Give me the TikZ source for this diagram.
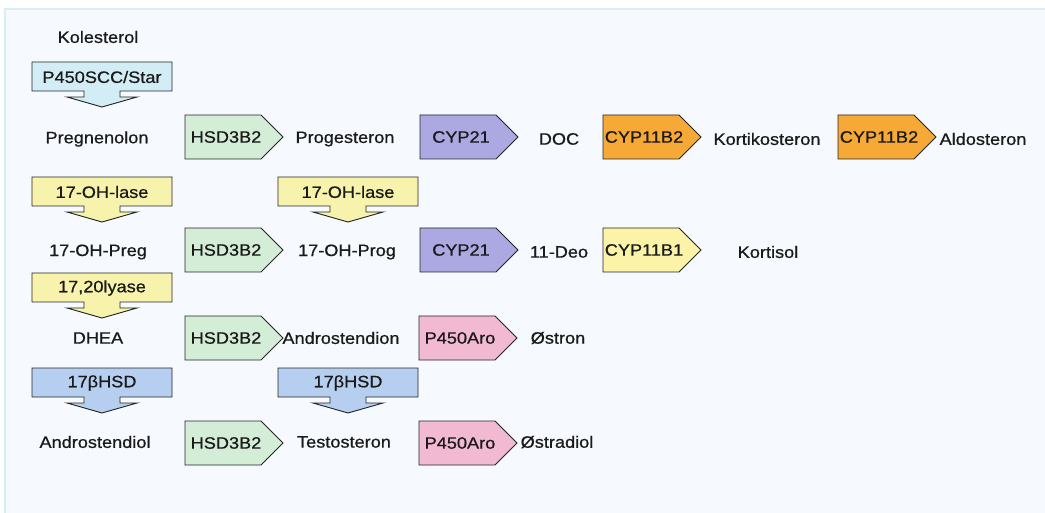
\documentclass[tikz,border=0pt]{standalone}
\usepackage{fontspec}
\setmainfont{Liberation Sans}[FakeStretch=1.1, FakeBold=0.7]

\definecolor{pagebg}{HTML}{F6F9FD}
\definecolor{frameline}{HTML}{D6EEF6}
\definecolor{sccfill}{HTML}{D3EDF6}
\definecolor{hsdfill}{HTML}{D3EDD6}
\definecolor{cypfill}{HTML}{ABA8E2}
\definecolor{orangefill}{HTML}{F6A936}
\definecolor{b1fill}{HTML}{FBF3A8}
\definecolor{lasefill}{HTML}{F7F3AC}
\definecolor{bhsdfill}{HTML}{B6CFF0}
\definecolor{arofill}{HTML}{F2B9D3}
\definecolor{inktext}{HTML}{1A1A1A}

\tikzset{
  enzline/.style={draw=black!85, line width=0.9pt, line join=miter},
  enzlabel/.style={inner sep=0pt, text=inktext, font=\fontsize{16.5}{18}\selectfont},
  metab/.style={inner sep=0pt, text=inktext, font=\fontsize{16.5}{18}\selectfont},
}

% enzyme pointing right: name, left x, top y, fill, label
\newcommand\enzright[5]{%
  \draw[enzline, fill=#4] (#2,#3) -- ++(76,0) -- ++(22,22) -- ++(-22,22)
        -- ++(-76,0) -- cycle;
  \node[enzlabel] (#1) at (#2+41,#3+22) {#5};}

% enzyme pointing down: name, left x, top y, fill, label
\newcommand\enzdown[5]{%
  \draw[enzline, fill=#4] (#2,#3) -- ++(140,0) -- ++(0,29) -- ++(-52,0)
        -- ++(0,6) -- ++(17,0) -- ++(-35,10) -- ++(-35,-10) -- ++(17,0)
        -- ++(0,-6) -- ++(-52,0) -- cycle;
  \node[enzlabel] (#1) at (#2+70,#3+15) {#5};}

\begin{document}
\begin{tikzpicture}[x=1pt, y=-1pt]
  \useasboundingbox (0,0) rectangle (1045,513);
  \fill[white] (0,0) rectangle (1045,513);
  \fill[pagebg] (5,9) rectangle (1045,513);
  \draw[frameline, line width=2.5pt] (5,513) -- (5,9) -- (1045,9);

  % metabolites
  \node[metab] (kol)   at (98,37)   {Kolesterol};
  \node[metab] (preg)  at (97,139)  {Pregnenolon};
  \node[metab] (prog)  at (345,139) {Progesteron};
  \node[metab] (doc)   at (559,139) {DOC};
  \node[metab] (kort)  at (767,139) {Kortikosteron};
  \node[metab] (aldo)  at (983,139) {Aldosteron};
  \node[metab] (ohpreg) at (98,252) {17-OH-Preg};
  \node[metab] (ohprog) at (347,252) {17-OH-Prog};
  \node[metab] (deo)   at (559,252) {11-Deo};
  \node[metab] (korti) at (768,252) {Kortisol};
  \node[metab] (dhea)  at (98,338)  {DHEA};
  \node[metab] (adion) at (341,338) {Androstendion};
  \node[metab] (estr)  at (558,338) {Østron};
  \node[metab] (adiol) at (95,442)  {Androstendiol};
  \node[metab] (testo) at (344,442) {Testosteron};
  \node[metab] (estd)  at (557,442) {Østradiol};

  % side-chain cleavage and hydroxylases (downward)
  \enzdown{scc}{32}{62}{sccfill}{P450SCC/Star}
  \enzdown{oh1}{32}{177}{lasefill}{17-OH-lase}
  \enzdown{oh2}{278}{177}{lasefill}{17-OH-lase}
  \enzdown{lya}{32}{273}{lasefill}{17,20lyase}
  \enzdown{bh1}{32}{368}{bhsdfill}{17βHSD}
  \enzdown{bh2}{278}{368}{bhsdfill}{17βHSD}

  % row 1
  \enzright{h1}{185}{115}{hsdfill}{HSD3B2}
  \enzright{c1}{420}{115}{cypfill}{CYP21}
  \enzright{o1}{603}{115}{orangefill}{CYP11B2}
  \enzright{o2}{838}{115}{orangefill}{CYP11B2}
  % row 2
  \enzright{h2}{185}{228}{hsdfill}{HSD3B2}
  \enzright{c2}{420}{228}{cypfill}{CYP21}
  \enzright{b1}{603}{228}{b1fill}{CYP11B1}
  % row 3
  \enzright{h3}{185}{316}{hsdfill}{HSD3B2}
  \enzright{a1}{419}{316}{arofill}{P450Aro}
  % row 4
  \enzright{h4}{185}{421}{hsdfill}{HSD3B2}
  \enzright{a2}{419}{421}{arofill}{P450Aro}
\end{tikzpicture}
\end{document}
